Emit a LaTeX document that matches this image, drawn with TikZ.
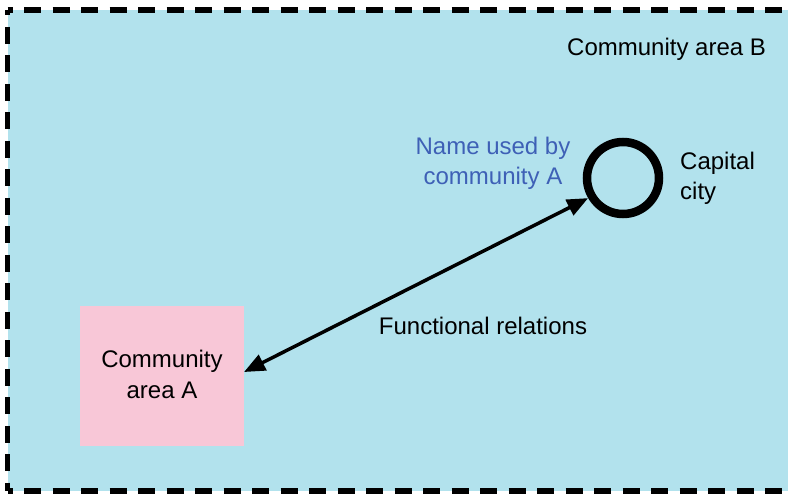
\documentclass[tikz,border=0pt]{standalone}
\usepackage{fontspec}
\setmainfont{Liberation Sans}
\usetikzlibrary{arrows.meta}
\definecolor{areaB}{RGB}{178,226,237}
\definecolor{areaApink}{RGB}{248,199,215}
\definecolor{nameblue}{RGB}{62,96,182}
\begin{document}
\begin{tikzpicture}[x=1pt,y=-1pt,
  lbl/.style={font=\fontsize{24}{30}\selectfont, inner sep=0pt},
  border/.style={line width=5.5pt, dash pattern=on 17pt off 11.5pt, dash phase=12pt},
  bigtip/.tip={Triangle[length=21pt,width=17pt]}]
\useasboundingbox (0,0) rectangle (788,496);
% community area B: shaded field with dashed outline
\fill[areaB] (7.5,10) rectangle (788,491);
\draw[border] (7.5,10) -- (788,10);
\draw[border] (7.5,10) -- (7.5,491);
\draw[border] (7.5,491) -- (788,491);
\node[lbl, anchor=base west] (labelB) at (567,55) {Community area B};
% community area A
\node[fill=areaApink, minimum width=164pt, minimum height=140pt, inner sep=0pt, outer sep=0pt,
      font=\fontsize{24}{31}\selectfont, align=center] (areaA) at (162,376) {};
\node[lbl, align=center, font=\fontsize{24}{31}\selectfont] (areaAname) at (162,374) {Community\\area A};
% capital city
\node[circle, draw, line width=8.5pt, minimum size=72pt, inner sep=0pt] (capital) at (623,178) {};
\node[lbl, align=left, anchor=west] (capname) at (680,178) {Capital\\city};
\node[lbl, align=center, text=nameblue] (nameA) at (493,163) {Name used by\\community A};
% functional relations
\node[lbl, anchor=base] (rel) at (483,334) {Functional relations};
\draw[line width=3.5pt, bigtip-bigtip] ([yshift=4pt]areaA.east) -- (capital.210);
\end{tikzpicture}
\end{document}
